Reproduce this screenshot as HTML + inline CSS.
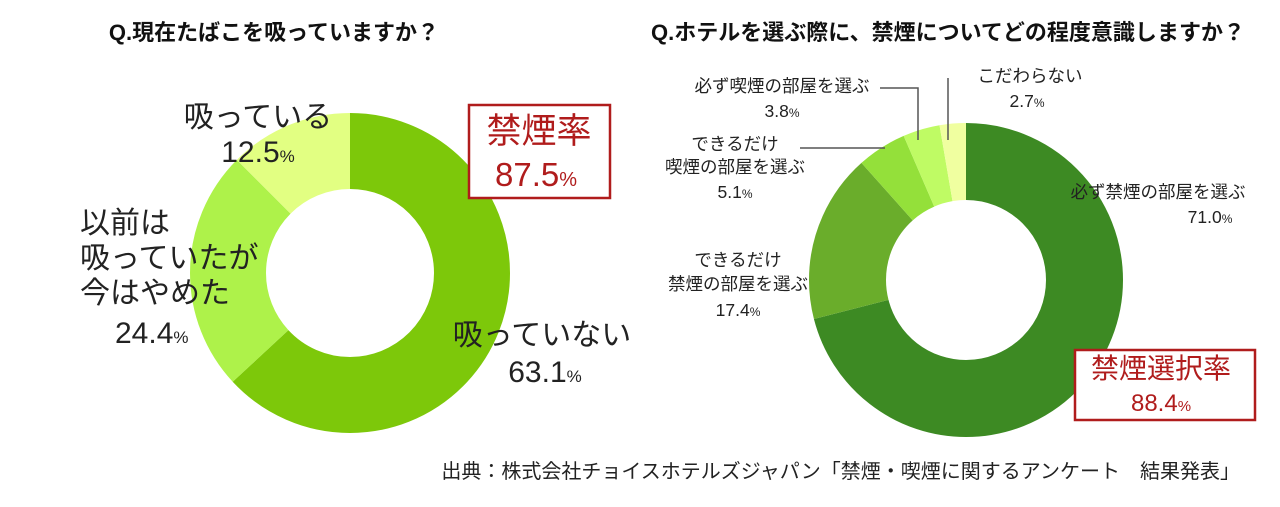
<!DOCTYPE html>
<html><head><meta charset="utf-8"><style>
body{margin:0;width:1280px;height:502px;background:#fff;overflow:hidden;font-family:"Liberation Sans","Noto Sans CJK JP",sans-serif;color:#222}
</style></head><body>
<svg width="1280" height="502" xmlns="http://www.w3.org/2000/svg" style="font-family:'Liberation Sans','Noto Sans CJK JP',sans-serif">
<text x="274" y="40" font-size="22" font-weight="bold" text-anchor="middle" fill="#111">Q.現在たばこを吸っていますか？</text>
<text x="948" y="40" font-size="22" font-weight="bold" text-anchor="middle" fill="#111">Q.ホテルを選ぶ際に、禁煙についてどの程度意識しますか？</text>
<g transform="rotate(-90 350 273)" fill="none" stroke-width="76">
<circle cx="350" cy="273" r="122" pathLength="100" stroke="#7dc80a" stroke-dasharray="63.1 100"/>
<circle cx="350" cy="273" r="122" pathLength="100" stroke="#aef24a" stroke-dasharray="24.4 100" stroke-dashoffset="-63.1"/>
<circle cx="350" cy="273" r="122" pathLength="100" stroke="#e2ff82" stroke-dasharray="12.5 100" stroke-dashoffset="-87.5"/>
</g>
<g transform="rotate(-90 966 280)" fill="none" stroke-width="77">
<circle cx="966" cy="280" r="118.5" pathLength="100" stroke="#3d8a23" stroke-dasharray="71 100"/>
<circle cx="966" cy="280" r="118.5" pathLength="100" stroke="#6aad2b" stroke-dasharray="17.4 100" stroke-dashoffset="-71"/>
<circle cx="966" cy="280" r="118.5" pathLength="100" stroke="#94e03a" stroke-dasharray="5.1 100" stroke-dashoffset="-88.4"/>
<circle cx="966" cy="280" r="118.5" pathLength="100" stroke="#bffb64" stroke-dasharray="3.8 100" stroke-dashoffset="-93.5"/>
<circle cx="966" cy="280" r="118.5" pathLength="100" stroke="#f0ffa0" stroke-dasharray="2.7 100" stroke-dashoffset="-97.3"/>
</g>
<g font-size="30" fill="#222">
<text x="258" y="127" text-anchor="middle">吸っている</text>
<text x="258" y="162" text-anchor="middle">12.5<tspan font-size="17">%</tspan></text>
<text x="80" y="233">以前は</text>
<text x="80" y="268">吸っていたが</text>
<text x="80" y="303">今はやめた</text>
<text x="115" y="343">24.4<tspan font-size="17">%</tspan></text>
<text x="542" y="345" text-anchor="middle">吸っていない</text>
<text x="545" y="382" text-anchor="middle">63.1<tspan font-size="17">%</tspan></text>
</g>
<rect x="469" y="105" width="141" height="93" fill="#fff" stroke="#b01c1c" stroke-width="2.5"/>
<text x="539" y="143" font-size="35" fill="#b01c1c" text-anchor="middle">禁煙率</text>
<text x="536" y="186" font-size="33" fill="#b01c1c" text-anchor="middle">87.5<tspan font-size="20">%</tspan></text>
<g stroke="#555" stroke-width="1.5" fill="none">
<polyline points="880,88 918,88 918,140"/>
<polyline points="948,78 948,140"/>
<polyline points="800,148 885,148"/>
</g>
<g font-size="17.5" fill="#222" text-anchor="middle">
<text x="782" y="92">必ず喫煙の部屋を選ぶ</text>
<text x="782" y="117">3.8<tspan font-size="12">%</tspan></text>
<text x="1030" y="82">こだわらない</text>
<text x="1027" y="107">2.7<tspan font-size="12">%</tspan></text>
<text x="735" y="150">できるだけ</text>
<text x="735" y="173">喫煙の部屋を選ぶ</text>
<text x="735" y="198">5.1<tspan font-size="12">%</tspan></text>
<text x="1158" y="198">必ず禁煙の部屋を選ぶ</text>
<text x="1210" y="223">71.0<tspan font-size="12">%</tspan></text>
<text x="738" y="266">できるだけ</text>
<text x="738" y="290">禁煙の部屋を選ぶ</text>
<text x="738" y="316">17.4<tspan font-size="12">%</tspan></text>
</g>
<rect x="1075" y="350" width="180" height="70" fill="#fff" stroke="#b01c1c" stroke-width="2.5"/>
<text x="1161" y="378" font-size="28" fill="#b01c1c" text-anchor="middle">禁煙選択率</text>
<text x="1161" y="411" font-size="24" fill="#b01c1c" text-anchor="middle">88.4<tspan font-size="15">%</tspan></text>
<text x="1240" y="478" font-size="20" fill="#222" text-anchor="end">出典：株式会社チョイスホテルズジャパン「禁煙・喫煙に関するアンケート　結果発表」</text>
</svg>
</body></html>
